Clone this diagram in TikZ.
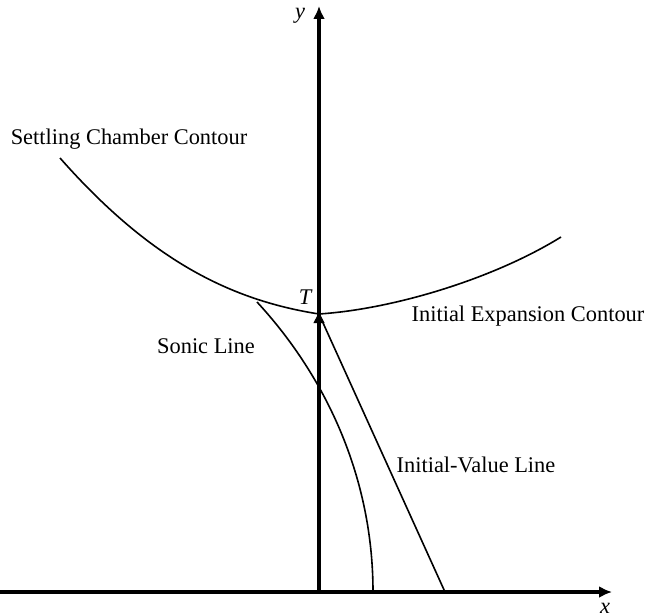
\documentclass[tikz,border=0pt]{standalone}
\usepackage{fontspec}
\setmainfont{Liberation Serif}
\usetikzlibrary{arrows.meta}
\tikzset{
  axis/.style={line width=2pt,-{Latex[length=6.5pt,width=6pt]}},
  curve/.style={line width=0.8pt},
  lab/.style={font=\fontsize{11.2}{13}\selectfont,inner sep=0pt},
  mlab/.style={font=\fontsize{11.2}{13}\selectfont\itshape,inner sep=0pt},
}
\begin{document}
\begin{tikzpicture}[x=0.5pt,y=-0.5pt]
  \useasboundingbox (0,0) rectangle (647,615);
  % axes
  \coordinate (xs) at (0,592);
  \coordinate (xe) at (612,592);
  \coordinate (O) at (319,592);
  \coordinate (ye) at (319,6);
  \coordinate (T) at (319,314);
  \draw[axis] (xs) -- (xe);
  \draw[axis] (O) -- (ye);
  \draw[axis] (O) -- ([yshift=2pt]T);
  \node[mlab] (xlab) at (605,608) {x};
  \node[mlab] (ylab) at (300,16) {y};
  \node[mlab] (Tlab) at (305,297) {T};
  % contours
  \coordinate (sc) at (60,158);
  \coordinate (ie) at (561,237);
  \coordinate (s0) at (257,302);
  \coordinate (s1) at (373,592);
  \coordinate (iv) at (445,592);
  \draw[curve] (sc) .. controls (150,260) and (230,300) .. (T)
                     .. controls (395,309) and (495,278) .. (ie);
  \draw[curve] (s0) .. controls (320,370) and (373,470) .. (s1);
  \draw[curve] (T) -- (iv);
  % labels
  \node[lab] (sclab) at (129,139) {Settling Chamber Contour};
  \node[lab] (ielab) at (528,316) {Initial Expansion Contour};
  \node[lab] (sllab) at (206,346) {Sonic Line};
  \node[lab] (ivlab) at (476,465) {Initial-Value Line};
\end{tikzpicture}
\end{document}
